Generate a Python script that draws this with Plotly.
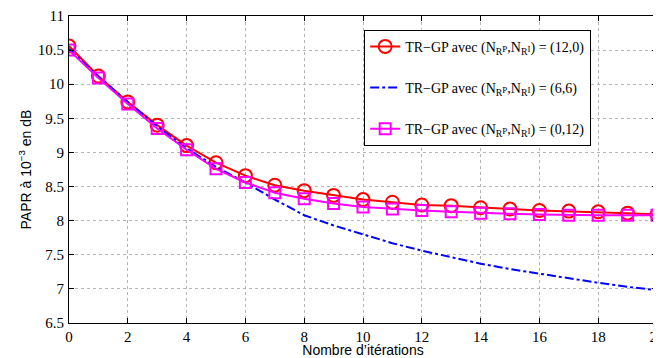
import plotly.graph_objects as go

iterations = list(range(21))
papr_12_0 = [10.56, 10.12, 9.74, 9.40, 9.10, 8.85, 8.66, 8.52, 8.44, 8.37, 8.31,
             8.27, 8.23, 8.22, 8.19, 8.17, 8.15, 8.14, 8.13, 8.11, 8.09]
papr_6_6 = [10.52, 10.11, 9.74, 9.38, 9.06, 8.79, 8.56, 8.31, 8.08, 7.93, 7.80,
            7.67, 7.56, 7.46, 7.37, 7.29, 7.22, 7.15, 7.09, 7.03, 6.98]
papr_0_12 = [10.50, 10.09, 9.71, 9.35, 9.04, 8.76, 8.56, 8.41, 8.32, 8.25, 8.20,
             8.17, 8.15, 8.13, 8.11, 8.10, 8.09, 8.08, 8.08, 8.08, 8.08]
labels = ["(12,0)", "(6,6)", "(0,12)"]
x_ticks = list(range(0, 21, 2))
y_ticks = [6.5, 7, 7.5, 8, 8.5, 9, 9.5, 10, 10.5, 11]

SERIF = "Liberation Serif, Times New Roman, Times, serif"
SANS = "Liberation Sans, Arial, Helvetica, sans-serif"

def name(v):
    small = '<span style="font-size:9px">'
    return ("TR\u2212GP avec (N<sub>R</sub>" + small + "P</span>,N<sub>R</sub>"
            + small + "I</span>) = " + v)

fig = go.Figure()
fig.add_trace(go.Scatter(
    x=iterations, y=papr_12_0, name=name(labels[0]), legendgroup="a",
    mode="lines+markers",
    line=dict(color="#ff0000", width=2),
    marker=dict(symbol="circle-open", size=13, color="#ff0000", line=dict(width=2))))
fig.add_trace(go.Scatter(
    x=iterations, y=papr_6_6, name=name(labels[1]), legendgroup="b",
    mode="lines",
    line=dict(color="#0000ff", width=2, dash="dashdot")))
fig.add_trace(go.Scatter(
    x=iterations, y=papr_0_12, name=name(labels[2]), legendgroup="c",
    mode="lines+markers",
    line=dict(color="#ff00ff", width=2),
    marker=dict(symbol="square-open", size=11, color="#ff00ff", line=dict(width=2))))

axis_common = dict(
    showline=True, linecolor="black", linewidth=1, mirror="ticks",
    ticks="inside", ticklen=5, tickcolor="black",
    showgrid=True, gridcolor="#b5b5b5", griddash="dot", gridwidth=1,
    zeroline=False, automargin=False, ticklabeloverflow="allow",
    tickfont=dict(family=SERIF, size=15, color="black"),
)

fig.update_xaxes(range=[0, 20], tickvals=x_ticks, ticktext=[str(v) for v in x_ticks],
                 ticklabelstandoff=0,
                 title=dict(text="Nombre d\u2019itérations", standoff=0,
                            font=dict(family=SANS, size=14, color="black")),
                 **axis_common)
fig.update_yaxes(range=[6.5, 11], tickvals=y_ticks, ticktext=[f"{v:g}" for v in y_ticks],
                 ticklabelstandoff=1,
                 title=dict(text="PAPR à 10<sup>\u22123</sup> en dB", standoff=2,
                            font=dict(family=SANS, size=14, color="black")),
                 **axis_common)

# page has an 8px body margin: figure is sized/offset to compensate
fig.update_layout(
    width=653, height=350,
    margin=dict(l=61, r=4, t=8, b=35, autoexpand=False),
    paper_bgcolor="white", plot_bgcolor="white",
    showlegend=True,
    legend=dict(x=0.502, y=0.955, xanchor="left", yanchor="top",
                bgcolor="white", bordercolor="black", borderwidth=1,
                font=dict(family=SERIF, size=14, color="black"),
                tracegroupgap=20, itemwidth=30),
)

fig.write_html("out.html")
